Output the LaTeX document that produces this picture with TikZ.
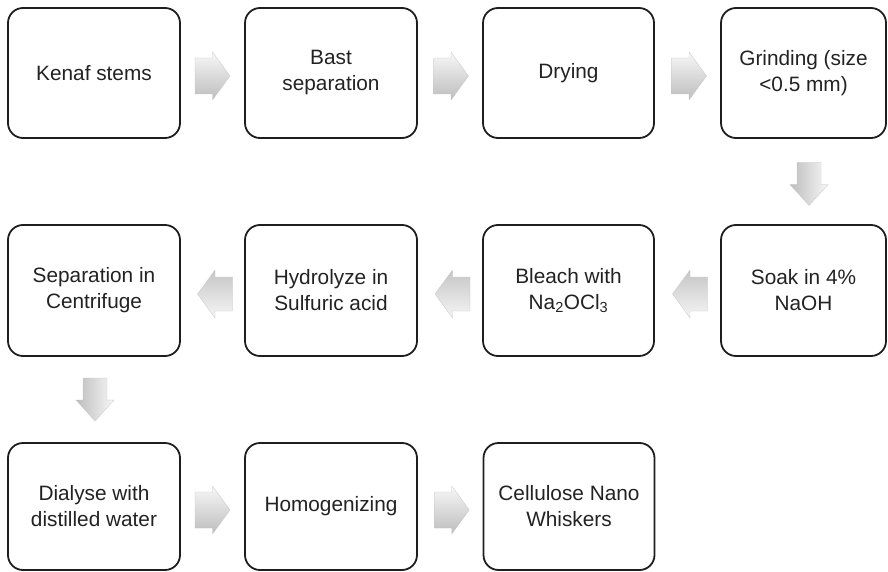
\documentclass[tikz,border=0pt]{standalone}
\usepackage{fontspec}
\setmainfont{Liberation Sans}
\usetikzlibrary{calc}
\definecolor{boxline}{HTML}{1E1E1E}
\definecolor{txt}{HTML}{222222}
\tikzset{
  procbox/.style={draw=boxline, line width=1.8pt, rounded corners=15pt,
    minimum width=172pt, minimum height=130pt, inner sep=0pt,
    align=center, text=txt, font=\fontsize{20.8}{26}\selectfont},
  rshade/.style={top color=gray!6, bottom color=gray!52, draw=gray!45, line width=0.3pt},
  lshade/.style={top color=gray!45, bottom color=gray!8, draw=gray!45, line width=0.3pt},
  dshade/.style={left color=gray!52, right color=gray!6, draw=gray!45, line width=0.3pt},
  rarr/.pic={\shade[rshade] (-17.5,-18) -- (0,-18) -- (0,-24) -- (17.5,0) -- (0,24) -- (0,18) -- (-17.5,18) -- cycle;},
  larr/.pic={\shade[lshade] (17.5,-17) -- (0,-17) -- (0,-24) -- (-17.5,0) -- (0,24) -- (0,17) -- (17.5,17) -- cycle;},
  darr/.pic={\shade[dshade] (-12,-21.5) -- (-12,0.5) -- (-19,0.5) -- (0,21.5) -- (19,0.5) -- (12,0.5) -- (12,-21.5) -- cycle;}
}
\begin{document}
\begin{tikzpicture}[x=1pt,y=-1pt]
\useasboundingbox (0,0) rectangle (888,572);
% row 1
\node[procbox] (b1) at (94,73) {Kenaf stems};
\node[procbox] (b2) at (331,73) {Bast\\separation};
\node[procbox, minimum width=171pt] (b3) at (568.5,73) {Drying};
\node[procbox, minimum width=165pt] (b4) at (803.5,73) {Grinding (size\\<0.5 mm)};
% row 2
\node[procbox, minimum width=165pt, minimum height=131pt] (b5) at (803.5,290.5) {Soak in 4\%\\NaOH};
\node[procbox, minimum width=171pt, minimum height=131pt] (b6) at (568.5,290.5) {Bleach with\\Na\textsubscript{2}OCl\textsubscript{3}};
\node[procbox, minimum height=131pt] (b7) at (331,290.5) {Hydrolyze in\\Sulfuric acid};
\node[procbox, minimum height=131pt] (b8) at (94,290.5) {Separation in\\Centrifuge};
% row 3
\node[procbox, minimum height=127pt] (b9) at (94,506.5) {Dialyse with\\distilled water};
\node[procbox, minimum height=127pt] (b10) at (331,506.5) {Homogenizing};
\node[procbox, minimum width=171pt, minimum height=127pt] (b11) at (569,506.5) {Cellulose Nano\\Whiskers};
% connectors (block arrows)
\path ($(b1.east)!0.5!(b2.west)$) coordinate (a12)
      ($(b2.east)!0.5!(b3.west)$) coordinate (a23)
      ($(b3.east)!0.5!(b4.west)$) coordinate (a34)
      ($(b4.south)!0.5!(b5.north)$) coordinate (a45)
      ($(b5.west)!0.5!(b6.east)$) coordinate (a56)
      ($(b6.west)!0.5!(b7.east)$) coordinate (a67)
      ($(b7.west)!0.5!(b8.east)$) coordinate (a78)
      ($(b8.south)!0.5!(b9.north)$) coordinate (a89)
      ($(b9.east)!0.5!(b10.west)$) coordinate (a910)
      ($(b10.east)!0.5!(b11.west)$) coordinate (a1011);
\pic at ([shift={(0,3)}]a12) {rarr};
\pic at ([shift={(1,3)}]a23) {rarr};
\pic at ([shift={(1.5,3)}]a34) {rarr};
\pic at ([shift={(5.5,2.5)}]a45) {darr};
\pic at ([shift={(2.5,3.5)}]a56) {larr};
\pic at ([shift={(2.5,3.5)}]a67) {larr};
\pic at ([shift={(2.5,3.5)}]a78) {larr};
\pic at ([shift={(1,0)}]a89) {darr};
\pic at ([shift={(0,3.5)}]a910) {rarr};
\pic at ([shift={(1.5,3.5)}]a1011) {rarr};
\end{tikzpicture}
\end{document}
